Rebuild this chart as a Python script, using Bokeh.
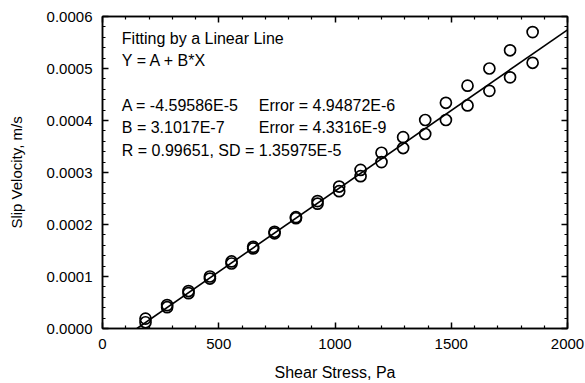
from bokeh.plotting import figure
from bokeh.models import (Range1d, LinearAxis, FixedTicker, PrintfTickFormatter, Label,
                          CustomJSTickFormatter)
from bokeh.embed import file_html
from bokeh.resources import INLINE

# Data
shear_stress = [185, 278, 370, 462, 555, 648, 740, 832, 925, 1018,
                1110, 1200, 1293, 1388, 1477, 1570, 1664, 1753, 1850]
slip_upper = [1.9e-5, 4.5e-5, 7.2e-5, 1.00e-4, 1.29e-4, 1.57e-4, 1.86e-4, 2.14e-4, 2.45e-4, 2.73e-4,
              3.05e-4, 3.38e-4, 3.68e-4, 4.01e-4, 4.34e-4, 4.67e-4, 5.00e-4, 5.35e-4, 5.70e-4]
slip_lower = [1.2e-5, 4.1e-5, 6.8e-5, 0.96e-4, 1.25e-4, 1.54e-4, 1.83e-4, 2.12e-4, 2.40e-4, 2.64e-4,
              2.93e-4, 3.20e-4, 3.47e-4, 3.74e-4, 4.01e-4, 4.29e-4, 4.57e-4, 4.83e-4, 5.11e-4]

x_ticks = [0, 500, 1000, 1500, 2000]
x_minor = [100, 200, 300, 400, 600, 700, 800, 900, 1100, 1200, 1300, 1400,
           1600, 1700, 1800, 1900]
y_ticks = [0.0, 0.0001, 0.0002, 0.0003, 0.0004, 0.0005, 0.0006]
y_minor = [0.00002, 0.00004, 0.00006, 0.00008, 0.00012, 0.00014, 0.00016, 0.00018,
           0.00022, 0.00024, 0.00026, 0.00028, 0.00032, 0.00034, 0.00036, 0.00038,
           0.00042, 0.00044, 0.00046, 0.00048, 0.00052, 0.00054, 0.00056, 0.00058]

fit_A = -4.59586e-5
fit_B = 3.1017e-7
fit_x = [-fit_A / fit_B, 2000]
fit_y = [fit_A + fit_B * xx for xx in fit_x]

note_lines = ["Fitting by a Linear Line", "Y = A + B*X",
              "A = -4.59586E-5", "B = 3.1017E-7", "R = 0.99651, SD = 1.35975E-5"]
note_errors = ["Error = 4.94872E-6", "Error = 4.3316E-9"]

FONT = "Liberation Sans"

p = figure(width=585, height=383, output_backend="svg", toolbar_location=None,
           x_range=Range1d(0, 2000), y_range=Range1d(0, 0.0006),
           min_border_left=102, min_border_right=18, min_border_top=16, min_border_bottom=53)
p.xgrid.visible = False
p.ygrid.visible = False
p.outline_line_color = "black"
p.outline_line_width = 1.5

xt = FixedTicker(ticks=x_ticks, minor_ticks=x_minor)
yt = FixedTicker(ticks=y_ticks, minor_ticks=y_minor)

def style(ax):
    ax.axis_line_color = "black"
    ax.axis_line_width = 1.5
    ax.major_tick_in = 6
    ax.major_tick_out = 0
    ax.minor_tick_in = 3
    ax.minor_tick_out = 0
    ax.major_tick_line_width = 1.5
    ax.minor_tick_line_width = 1.2
    ax.major_tick_line_color = "black"
    ax.minor_tick_line_color = "black"
    ax.major_label_text_font = FONT
    ax.major_label_text_font_size = "15px"
    ax.major_label_text_color = "black"
    ax.axis_label_text_font = FONT
    ax.axis_label_text_font_size = "15px"
    ax.axis_label_text_font_style = "normal"
    ax.axis_label_text_color = "black"

p.xaxis.ticker = xt
p.yaxis.ticker = yt
p.yaxis.formatter = PrintfTickFormatter(format="%.4f")
p.xaxis.axis_label = "Shear Stress, Pa"
p.yaxis.axis_label = "Slip Velocity, m/s"
style(p.xaxis[0])
style(p.yaxis[0])
p.xaxis.axis_label_text_font_size = "16px"
p.xaxis.major_label_standoff = 10
p.yaxis.major_label_standoff = 10
p.xaxis.axis_label_standoff = 12
p.yaxis.axis_label_standoff = 19

blank = CustomJSTickFormatter(code="return ''")
top = LinearAxis(ticker=xt, formatter=blank)
right = LinearAxis(ticker=yt, formatter=blank)
style(top)
style(right)
top.major_label_standoff = 0
right.major_label_standoff = 0
p.add_layout(top, "above")
p.add_layout(right, "right")

p.line(fit_x, fit_y, line_color="black", line_width=1.6)
p.scatter(shear_stress, slip_upper, marker="circle", size=11, fill_color=None,
          line_color="black", line_width=1.7)
p.scatter(shear_stress, slip_lower, marker="circle", size=11, fill_color=None,
          line_color="black", line_width=1.7)

ys = [5.58e-4, 5.16e-4, 4.29e-4, 3.87e-4, 3.43e-4]
for t, yy in zip(note_lines, ys):
    p.add_layout(Label(x=83, y=yy, text=t, text_font=FONT, text_font_size="16px",
                       text_baseline="middle", text_color="black"))
for t, yy in zip(note_errors, ys[2:4]):
    p.add_layout(Label(x=672, y=yy, text=t, text_font=FONT, text_font_size="16px",
                       text_baseline="middle", text_color="black"))

open("out.html", "w").write(file_html(p, INLINE))
